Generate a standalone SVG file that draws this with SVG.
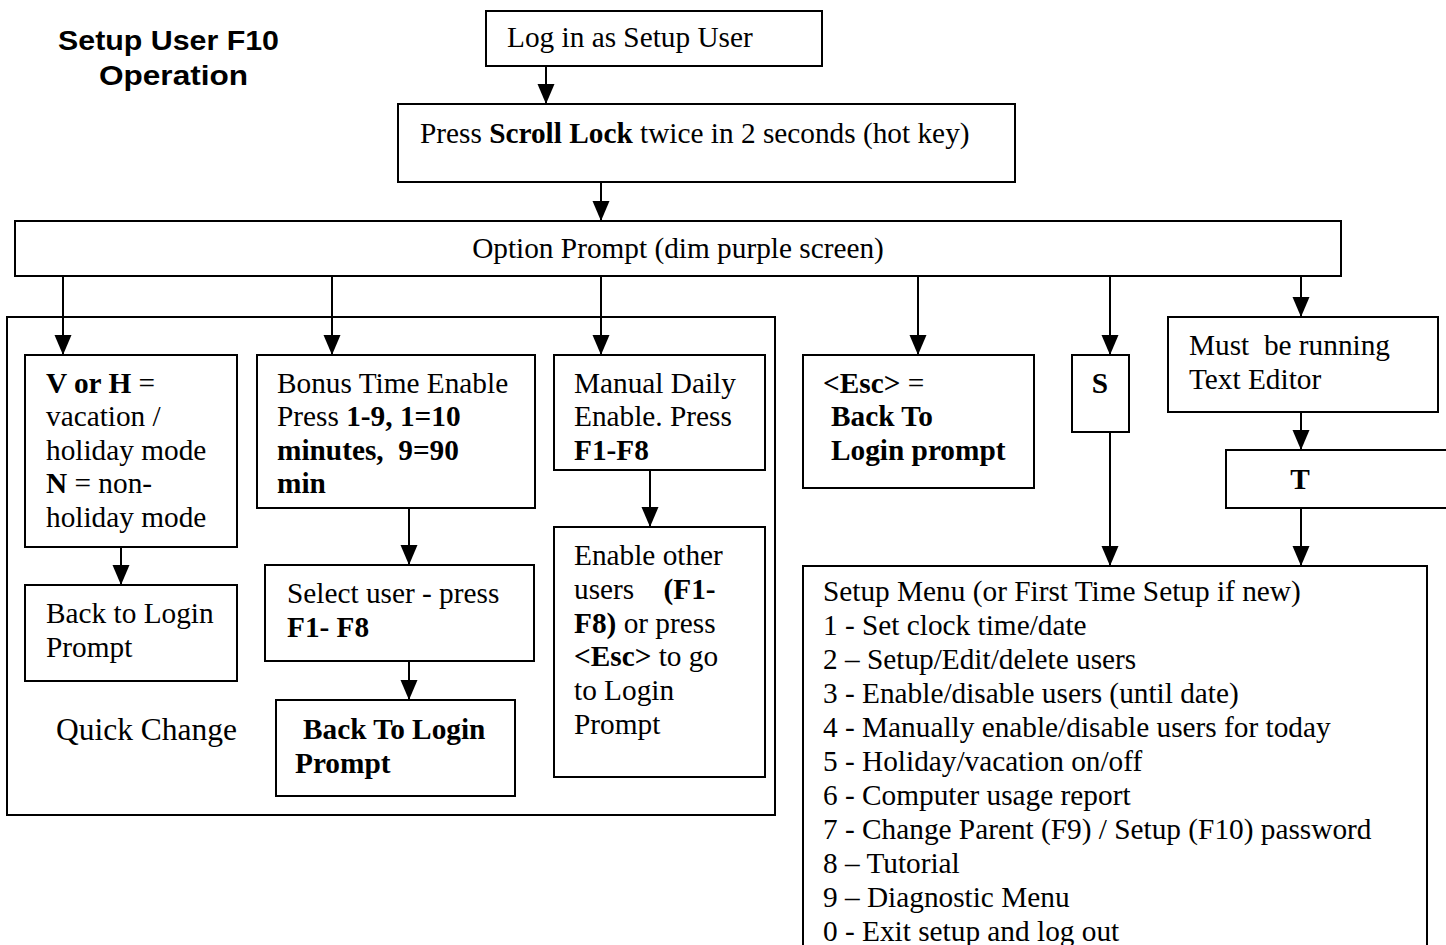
<svg xmlns="http://www.w3.org/2000/svg" width="1446" height="945" viewBox="0 0 1446 945">
<style>
.box{fill:#fff;stroke:#000;stroke-width:2}
.t{font-family:"Liberation Serif","Times New Roman",serif;font-size:29.3px;fill:#000}
.b{font-weight:bold}
.title{font-family:"Liberation Sans",Arial,sans-serif;font-size:28px;font-weight:bold;fill:#000}
.c{stroke:#000;stroke-width:2;fill:none;marker-end:url(#ah)}
</style>
<defs>
<marker id="ah" markerUnits="userSpaceOnUse" markerWidth="20" markerHeight="18" refX="20" refY="9" orient="auto">
<path d="M0,0.5 L20,9 L0,17.5 Z" fill="#000"/>
</marker>
</defs>
<rect width="1446" height="945" fill="#fff"/>

<g id="title">
<text class="title" x="58" y="50" textLength="221" lengthAdjust="spacingAndGlyphs">Setup User F10</text>
<text class="title" x="99" y="85" textLength="149" lengthAdjust="spacingAndGlyphs">Operation</text>
</g>

<g id="quick-change">
<rect class="box" x="7" y="317" width="768" height="498"/>
<text class="t" x="56" y="740" style="font-size:31.5px">Quick Change</text>
</g>

<g id="login">
<rect class="box" x="486" y="11" width="336" height="55"/>
<text class="t" x="507" y="47">Log in as Setup User</text>
</g>

<g id="scroll-lock">
<rect class="box" x="398" y="104" width="617" height="78"/>
<text class="t" x="420" y="143">Press <tspan class="b">Scroll Lock</tspan> twice in 2 seconds (hot key)</text>
</g>

<g id="option-prompt">
<rect class="box" x="15" y="221" width="1326" height="55"/>
<text class="t" x="678" y="258" text-anchor="middle">Option Prompt (dim purple screen)</text>
</g>

<g id="vh">
<rect class="box" x="25" y="355" width="212" height="192"/>
<text class="t" x="46" y="393"><tspan class="b">V or H</tspan> =</text>
<text class="t" x="46" y="426">vacation /</text>
<text class="t" x="46" y="460">holiday mode</text>
<text class="t" x="46" y="493"><tspan class="b">N</tspan> = non-</text>
<text class="t" x="46" y="527">holiday mode</text>
</g>

<g id="back-login-1">
<rect class="box" x="25" y="585" width="212" height="96"/>
<text class="t" x="46" y="623">Back to Login</text>
<text class="t" x="46" y="657">Prompt</text>
</g>

<g id="bonus">
<rect class="box" x="257" y="355" width="278" height="153"/>
<text class="t" x="277" y="393">Bonus Time Enable</text>
<text class="t" x="277" y="426">Press <tspan class="b">1-9, 1=10</tspan></text>
<text class="t b" x="277" y="460" xml:space="preserve">minutes,  9=90</text>
<text class="t b" x="277" y="493">min</text>
</g>

<g id="select-user">
<rect class="box" x="265" y="565" width="269" height="96"/>
<text class="t" x="287" y="603">Select user - press</text>
<text class="t b" x="287" y="637">F1- F8</text>
</g>

<g id="back-login-2">
<rect class="box" x="276" y="700" width="239" height="96"/>
<text class="t b" x="303" y="739">Back To Login</text>
<text class="t b" x="295" y="773">Prompt</text>
</g>

<g id="manual-daily">
<rect class="box" x="554" y="355" width="211" height="115"/>
<text class="t" x="574" y="393">Manual Daily</text>
<text class="t" x="574" y="426">Enable. Press</text>
<text class="t b" x="574" y="460">F1-F8</text>
</g>

<g id="enable-other">
<rect class="box" x="554" y="527" width="211" height="250"/>
<text class="t" x="574" y="565">Enable other</text>
<text class="t" x="574" y="599" xml:space="preserve">users    <tspan class="b">(F1-</tspan></text>
<text class="t" x="574" y="633"><tspan class="b">F8)</tspan> or press</text>
<text class="t" x="574" y="666"><tspan class="b">&lt;Esc&gt;</tspan> to go</text>
<text class="t" x="574" y="700">to Login</text>
<text class="t" x="574" y="734">Prompt</text>
</g>

<g id="esc">
<rect class="box" x="803" y="355" width="231" height="133"/>
<text class="t" x="823" y="393"><tspan class="b">&lt;Esc&gt;</tspan> =</text>
<text class="t b" x="831" y="426">Back To</text>
<text class="t b" x="831" y="460">Login prompt</text>
</g>

<g id="s">
<rect class="box" x="1072" y="355" width="57" height="77"/>
<text class="t b" x="1100" y="393" text-anchor="middle">S</text>
</g>

<g id="text-editor">
<rect class="box" x="1168" y="317" width="270" height="95"/>
<text class="t" x="1189" y="355" xml:space="preserve">Must  be running</text>
<text class="t" x="1189" y="389">Text Editor</text>
</g>

<g id="t">
<rect class="box" x="1226" y="450" width="240" height="58"/>
<text class="t b" x="1300" y="489" text-anchor="middle">T</text>
</g>

<g id="setup-menu">
<rect class="box" x="803" y="566" width="624" height="400"/>
<text class="t" x="823" y="601">Setup Menu (or First Time Setup if new)</text>
<text class="t" x="823" y="635">1 - Set clock time/date</text>
<text class="t" x="823" y="669">2 – Setup/Edit/delete users</text>
<text class="t" x="823" y="703">3 - Enable/disable users (until date)</text>
<text class="t" x="823" y="737">4 - Manually enable/disable users for today</text>
<text class="t" x="823" y="771">5 - Holiday/vacation on/off</text>
<text class="t" x="823" y="805">6 - Computer usage report</text>
<text class="t" x="823" y="839">7 - Change Parent (F9) / Setup (F10) password</text>
<text class="t" x="823" y="873">8 – Tutorial</text>
<text class="t" x="823" y="907">9 – Diagnostic Menu</text>
<text class="t" x="823" y="941">0 - Exit setup and log out</text>
</g>

<g id="connectors">
<line class="c" x1="546" y1="66" x2="546" y2="104"/>
<line class="c" x1="601" y1="182" x2="601" y2="221"/>
<line class="c" x1="63" y1="276" x2="63" y2="355"/>
<line class="c" x1="332" y1="276" x2="332" y2="355"/>
<line class="c" x1="601" y1="276" x2="601" y2="355"/>
<line class="c" x1="918" y1="276" x2="918" y2="355"/>
<line class="c" x1="1110" y1="276" x2="1110" y2="355"/>
<line class="c" x1="1301" y1="276" x2="1301" y2="317"/>
<line class="c" x1="121" y1="547" x2="121" y2="585"/>
<line class="c" x1="409" y1="508" x2="409" y2="565"/>
<line class="c" x1="409" y1="661" x2="409" y2="700"/>
<line class="c" x1="650" y1="470" x2="650" y2="527"/>
<line class="c" x1="1110" y1="432" x2="1110" y2="566"/>
<line class="c" x1="1301" y1="412" x2="1301" y2="450"/>
<line class="c" x1="1301" y1="508" x2="1301" y2="566"/>
</g>
</svg>
